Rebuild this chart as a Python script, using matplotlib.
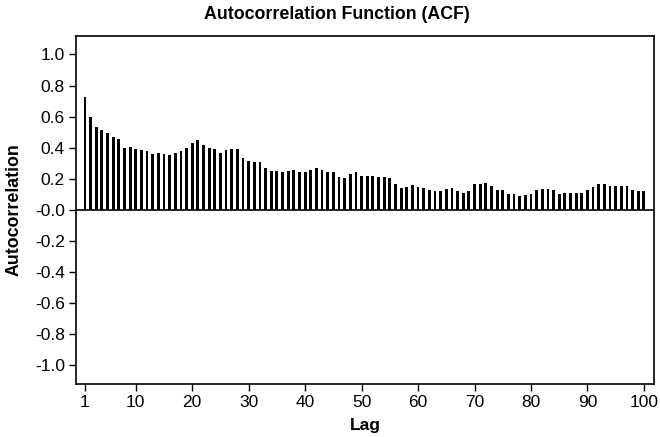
import numpy as np
import matplotlib.pyplot as plt

plt.rcParams['font.family'] = ['Liberation Sans', 'DejaVu Sans']

# Sample autocorrelation at lags 1..100
lags = np.arange(1, 101)
acf = [
    0.724, 0.599, 0.534, 0.517, 0.492, 0.470, 0.455, 0.399, 0.405, 0.390,
    0.384, 0.377, 0.363, 0.369, 0.363, 0.354, 0.369, 0.380, 0.399, 0.433,
    0.448, 0.416, 0.399, 0.390, 0.369, 0.384, 0.395, 0.395, 0.337, 0.315,
    0.306, 0.306, 0.272, 0.250, 0.250, 0.244, 0.250, 0.259, 0.244, 0.244,
    0.259, 0.268, 0.259, 0.244, 0.244, 0.212, 0.205, 0.229, 0.244, 0.221,
    0.221, 0.221, 0.212, 0.212, 0.205, 0.169, 0.143, 0.150, 0.158, 0.150,
    0.143, 0.126, 0.119, 0.119, 0.134, 0.143, 0.119, 0.108, 0.119, 0.165,
    0.165, 0.171, 0.154, 0.126, 0.126, 0.102, 0.102, 0.087, 0.095, 0.102,
    0.126, 0.134, 0.134, 0.126, 0.102, 0.108, 0.108, 0.108, 0.108, 0.126,
    0.147, 0.169, 0.165, 0.156, 0.156, 0.156, 0.156, 0.126, 0.119, 0.119,
]
xticks = [1, 10, 20, 30, 40, 50, 60, 70, 80, 90, 100]
yticks = np.round(np.arange(-1.0, 1.01, 0.2), 1)

fig = plt.figure(figsize=(6.6, 4.37), dpi=100)
ax = fig.add_axes([0.115, 0.121, 0.876, 0.797])

ax.bar(lags, acf, width=0.5, color='black')
ax.axhline(0, color='black', linewidth=1.2)

ax.set_xlim(-0.6, 101.8)
ax.set_ylim(-1.12, 1.12)
ax.set_xticks(xticks)
ax.set_yticks(yticks)
ax.set_yticklabels([f'{v:.1f}' for v in yticks])
ax.tick_params(direction='out', length=5, width=1, labelsize=12.5, pad=3)

for s in ax.spines.values():
    s.set_linewidth(1.2)

fig.text(0.51, 0.966, 'Autocorrelation Function (ACF)', fontsize=12.8,
         fontweight='bold', ha='center', va='center')
ax.set_xlabel('Lag', fontsize=12.5, fontweight='bold')
ax.set_ylabel('Autocorrelation', fontsize=12.8, fontweight='bold')
ax.xaxis.set_label_coords(0.5, -0.118)
ax.yaxis.set_label_coords(-0.107, 0.5)
ax.xaxis.label.set_va('center')
ax.yaxis.label.set_va('center')

fig.savefig('out.png', dpi=100)
